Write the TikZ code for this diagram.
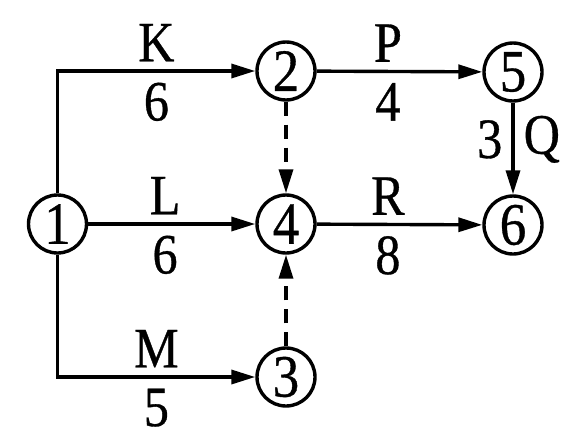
\documentclass[tikz,border=0pt]{standalone}
\usepackage{fontspec}
\setmainfont{Liberation Serif}[FakeStretch=0.88, FakeBold=0.6]
\usetikzlibrary{arrows.meta}
\begin{document}
\begin{tikzpicture}[x=1pt,y=-1pt,
  ev/.style={draw, circle, line width=3.4pt, minimum size=58pt, inner sep=0pt, font=\fontsize{60}{66}\selectfont},
  act/.style={line width=3.4pt, -{Triangle[length=24pt,width=14pt]}},
  dum/.style={act, dash pattern=on 14pt off 9pt},
  lab/.style={inner sep=0pt, font=\fontsize{57}{64}\selectfont}]
\useasboundingbox (0,0) rectangle (580,447);
\node[ev] (n1) at (57.5,224) {1};
\node[ev] (n2) at (286,71) {2};
\node[ev] (n4) at (286,224) {4};
\node[ev] (n3) at (286,377) {3};
\node[ev] (n5) at (513,72) {5};
\node[ev] (n6) at (513,225) {6};
\draw[act] (n1) |- (n2)
  node[lab, pos=0.75, above=8pt] {K}
  node[lab, pos=0.75, below=10pt] {6};
\draw[act] (n1) -- (n4)
  node[lab, pos=0.46, above=8pt] {L}
  node[lab, pos=0.46, below=10pt] {6};
\draw[act] (n1) |- (n3)
  node[lab, pos=0.75, above=8pt] {M}
  node[lab, pos=0.75, below=10pt] {5};
\draw[act] (n2) -- (n5)
  node[lab, pos=0.43, above=8pt] {P}
  node[lab, pos=0.43, below=10pt] {4};
\draw[act] (n4) -- (n6)
  node[lab, pos=0.43, above=8pt] {R}
  node[lab, pos=0.43, below=10pt] {8};
\draw[act] (n5) -- (n6)
  node[lab, pos=0.4, left=9pt] {3}
  node[lab, pos=0.4, right=9pt] {Q};
\draw[dum] (n2) -- (n4);
\draw[dum] (n3) -- (n4);
\end{tikzpicture}
\end{document}
